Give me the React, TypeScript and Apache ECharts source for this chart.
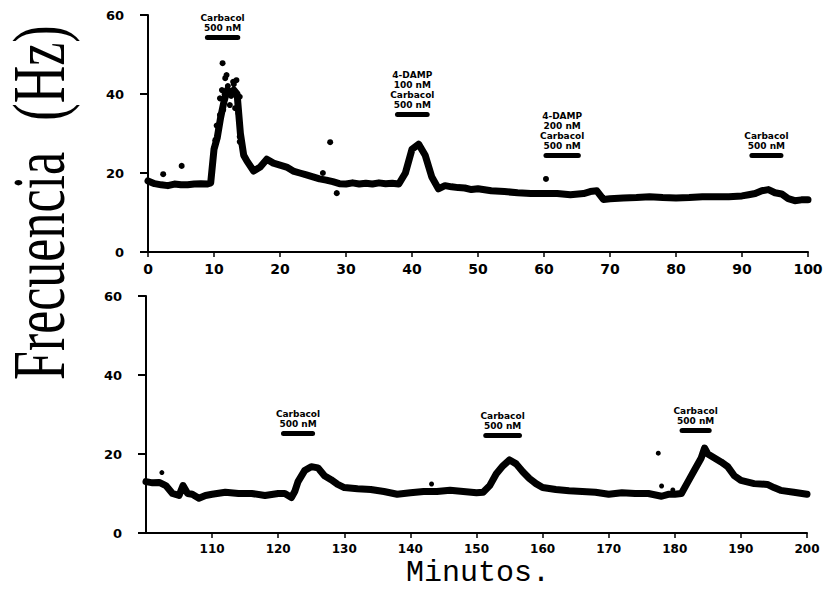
import React, { useEffect, useRef } from "react";
import * as echarts from "echarts";

// ---- Top panel (0-100 min) ----
const topT = [0, 1, 2, 3, 4, 5, 6, 7, 8, 9, 9.5, 10, 10.5, 11, 11.5, 12, 12.5, 13, 13.5, 14, 14.5, 15, 16, 17, 18, 19, 20, 21, 22, 23, 24, 25, 26, 27, 28, 29, 30, 31, 32, 33, 34, 35, 36, 37, 38, 39, 40, 41, 42, 43, 44, 45, 46, 47, 48, 49, 50, 52, 54, 56, 58, 60, 62, 64, 66, 67, 68, 69, 70, 72, 74, 76, 78, 80, 82, 84, 86, 88, 90, 91, 92, 93, 94, 95, 96, 97, 98, 99, 100];
const topV = [18, 17.3, 17, 16.8, 17.2, 17, 17, 17.2, 17.3, 17.2, 17.5, 26, 29, 34, 38, 41, 40, 41, 40, 30, 24.5, 23, 20.5, 21.5, 23.5, 22.5, 22, 21.5, 20.5, 20, 19.5, 19, 18.5, 18.2, 17.8, 17.3, 17.2, 17.5, 17.2, 17.4, 17.2, 17.5, 17.3, 17.4, 17.2, 20, 26, 27.3, 24.5, 19, 16, 16.8, 16.5, 16.3, 16.2, 15.8, 16, 15.5, 15.3, 15, 14.8, 14.8, 14.8, 14.5, 14.8, 15.3, 15.5, 13.3, 13.5, 13.7, 13.8, 14, 13.8, 13.7, 13.8, 14, 14, 14, 14.2, 14.5, 14.8, 15.5, 15.8, 15, 14.7, 13.5, 13, 13.2, 13.2];
// scattered points (peak burst and isolated dots)
const topDotT = [11.3, 11.7, 11.2, 10.9, 11.4, 10.9, 11.9, 12.9, 13.4, 13.9, 13.7, 12.4, 13.2, 13.9, 13.9, 10.4, 10.2, 10.0, 12.1, 12.6, 13.0, 11.6, 2.3, 5.1, 27.6, 28.6, 60.3, 26.5];
const topDotV = [47.8, 44, 41, 38.9, 36, 34.7, 44.8, 43.1, 43.5, 39.3, 35.1, 37.2, 36.4, 29.2, 27.9, 32, 28.3, 26.3, 42, 39.5, 42.5, 40, 19.7, 21.8, 27.8, 14.9, 18.5, 20];

// ---- Bottom panel (100-200 min) ----
const botT = [100, 101, 102, 103, 104, 105, 105.6, 106.3, 107, 108, 109, 110, 112, 114, 116, 118, 120, 121, 122, 122.5, 123, 124, 125, 126, 127, 128, 129, 130, 132, 134, 136, 138, 140, 142, 144, 146, 148, 150, 151, 152, 153, 154, 155, 156, 157, 158, 159, 160, 162, 164, 166, 168, 170, 172, 174, 176, 178, 179, 180, 181, 182, 183, 184, 184.5, 185, 186, 187, 188, 189, 190, 192, 194, 195, 196, 198, 200];
const botV = [13, 12.7, 12.8, 12, 10, 9.5, 12, 10, 9.8, 8.8, 9.5, 9.8, 10.3, 10, 10, 9.5, 10, 10, 9, 10.5, 13, 15.8, 16.8, 16.5, 14.5, 13.5, 12.3, 11.5, 11.2, 11, 10.5, 9.8, 10.2, 10.5, 10.5, 10.8, 10.5, 10.2, 10.3, 12, 15, 17, 18.5, 17.5, 15.5, 13.8, 12.5, 11.5, 11, 10.7, 10.5, 10.3, 9.8, 10.2, 10, 10, 9.3, 9.8, 9.8, 10, 13, 16, 19, 21.5, 20, 19, 18, 16.8, 14.5, 13.3, 12.5, 12.3, 11.5, 10.8, 10.3, 9.8];
const botDotT = [102.4, 143.2, 177.5, 178, 179.7];
const botDotV = [15.3, 12.4, 20.2, 11.9, 10.9];

// ---- Treatment annotations ----
const topAnnText = ["Carbacol\n500 nM", "4-DAMP\n100 nM\nCarbacol\n500 nM", "4-DAMP\n200 nM\nCarbacol\n500 nM", "Carbacol\n500 nM"];
const topAnnStart = [9, 37.8, 60.3, 91.5];
const topAnnEnd = [13.6, 42.3, 65.2, 95.9];
const topAnnLevel = [54.4, 34.9, 24.6, 24.6];
const botAnnText = ["Carbacol\n500 nM", "Carbacol\n500 nM", "Carbacol\n500 nM"];
const botAnnStart = [120.8, 151.4, 181.1];
const botAnnEnd = [125.2, 156.5, 185.2];
const botAnnLevel = [25.3, 24.7, 26.1];

const yTicks = [0, 20, 40, 60];

const pairs = (xs: number[], ys: number[]) => xs.map((x, i) => [x, ys[i]]);

const annData = (txt: string[], s: number[], e: number[], lv: number[]) =>
  txt.map((t, i) => [
    { coord: [s[i], lv[i]], label: { formatter: t } },
    { coord: [e[i], lv[i]] },
  ]);

const axisFont = "DejaVu Sans";

export default function App() {
  const ref = useRef<HTMLDivElement>(null);
  useEffect(() => {
    document.body.style.margin = "0";
    const chart = echarts.init(ref.current!, null, { renderer: "svg" });
    const yAxisCommon = (gi: number) => ({
      type: "value",
      gridIndex: gi,
      min: yTicks[0],
      max: yTicks[yTicks.length - 1],
      interval: 20,
      splitLine: { show: false },
      axisLine: { show: true, lineStyle: { color: "#000", width: 2 } },
      axisTick: { show: true, length: 8, lineStyle: { color: "#000", width: 2 } },
      axisLabel: { color: "#000", fontFamily: axisFont, fontWeight: "bold", fontSize: 13, margin: 24 },
    });
    const markLineCommon = (data: any) => ({
      silent: true,
      symbol: ["none", "none"],
      animation: false,
      lineStyle: { color: "#000", width: 5, type: "solid", cap: "round", opacity: 1 },
      label: {
        show: true,
        position: "insideMiddleTop",
        distance: 4,
        color: "#000",
        fontFamily: axisFont,
        fontWeight: "bold",
        fontSize: 9,
        lineHeight: 10,
      },
      emphasis: { disabled: true },
      data,
    });
    const yTitle = (txt: string, cy: number) => ({
      type: "group",
      x: 39,
      y: cy,
      rotation: Math.PI / 2,
      children: [
        {
          type: "text",
          x: 0,
          y: 0,
          scaleY: 1.42,
          style: {
            text: txt,
            fill: "#000",
            font: "52px 'Liberation Serif'",
            align: "center",
            verticalAlign: "middle",
          },
        },
      ],
    });
    chart.setOption({
      animation: false,
      backgroundColor: "#fff",
      grid: [
        { left: 148, top: 15, width: 660, height: 237 },
        { left: 146, top: 296, width: 661, height: 237 },
      ],
      xAxis: [
        {
          type: "value",
          gridIndex: 0,
          min: 0,
          max: 100,
          interval: 10,
          splitLine: { show: false },
          axisLine: { onZero: false, lineStyle: { color: "#000", width: 2 } },
          axisTick: { length: 5, lineStyle: { color: "#000", width: 1.5 } },
          axisLabel: { color: "#000", fontFamily: axisFont, fontWeight: "bold", fontSize: 14, margin: 10 },
        },
        {
          type: "value",
          gridIndex: 1,
          min: 100,
          max: 200,
          interval: 10,
          splitLine: { show: false },
          axisLine: { onZero: false, lineStyle: { color: "#000", width: 2 } },
          axisTick: { length: 5, lineStyle: { color: "#000", width: 1.5 } },
          axisLabel: { color: "#000", fontFamily: axisFont, fontWeight: "bold", fontSize: 12, margin: 10, showMinLabel: false },
        },
      ],
      yAxis: [yAxisCommon(0), yAxisCommon(1)],
      series: [
        {
          type: "line",
          xAxisIndex: 0,
          yAxisIndex: 0,
          data: pairs(topT, topV),
          symbol: "none",
          lineStyle: { color: "#000", width: 7, join: "round", cap: "round" },
          markLine: markLineCommon(annData(topAnnText, topAnnStart, topAnnEnd, topAnnLevel)),
        },
        {
          type: "scatter",
          xAxisIndex: 0,
          yAxisIndex: 0,
          data: pairs(topDotT, topDotV),
          symbolSize: 6,
          itemStyle: { color: "#000", opacity: 1 },
        },
        {
          type: "line",
          xAxisIndex: 1,
          yAxisIndex: 1,
          data: pairs(botT, botV),
          symbol: "none",
          lineStyle: { color: "#000", width: 7, join: "round", cap: "round" },
          markLine: markLineCommon(annData(botAnnText, botAnnStart, botAnnEnd, botAnnLevel)),
        },
        {
          type: "scatter",
          xAxisIndex: 1,
          yAxisIndex: 1,
          data: pairs(botDotT, botDotV),
          symbolSize: 5,
          itemStyle: { color: "#000", opacity: 1 },
        },
      ],
      graphic: [
        yTitle("Frecuencia", 266),
        yTitle("(Hz)", 73),
        {
          type: "text",
          x: 478,
          y: 573,
          style: {
            text: "Minutos.",
            fill: "#000",
            font: "30px 'Liberation Mono'",
            align: "center",
            verticalAlign: "middle",
          },
        },
      ],
    });
    return () => chart.dispose();
  }, []);
  return <div ref={ref} style={{ width: 827, height: 590 }} />;
}
